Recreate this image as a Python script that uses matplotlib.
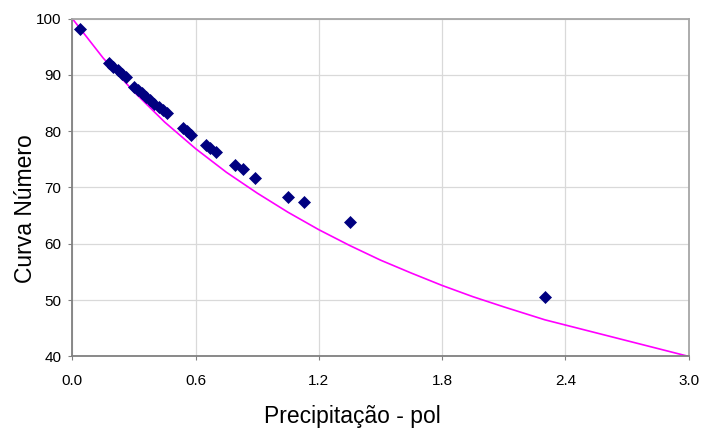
import matplotlib
matplotlib.use('Agg')
import matplotlib.pyplot as plt

plt.rcParams['font.family'] = ['Liberation Sans', 'DejaVu Sans']

# observed points (precipitation in, curve number)
precip = [0.037, 0.18, 0.20, 0.22, 0.24, 0.26, 0.30, 0.32, 0.34, 0.36, 0.38,
          0.40, 0.42, 0.44, 0.46, 0.54, 0.56, 0.58, 0.65, 0.67, 0.70, 0.79,
          0.83, 0.89, 1.05, 1.13, 1.35, 2.30]
cn_obs = [98.1, 92.1, 91.4, 90.8, 90.2, 89.6, 87.9, 87.3, 86.7, 86.1, 85.5,
          84.9, 84.3, 83.7, 83.2, 80.5, 80.0, 79.4, 77.5, 77.0, 76.3, 74.0,
          73.2, 71.6, 68.3, 67.4, 63.9, 50.5]

# magenta reference curve
curve_p = [0, 0.15, 0.3, 0.45, 0.6, 0.75, 0.9, 1.05, 1.2, 1.35, 1.5, 1.65,
           1.8, 1.95, 2.1, 2.3, 3.0]
curve_cn = [100, 93.0, 87.0, 81.6, 76.9, 72.7, 69.0, 65.6, 62.5, 59.7, 57.1,
            54.8, 52.6, 50.6, 48.8, 46.5, 40.0]

xticks = [0.0, 0.6, 1.2, 1.8, 2.4, 3.0]
yticks = [40, 50, 60, 70, 80, 90, 100]

fig = plt.figure(figsize=(7.02, 4.32), dpi=100)
ax = fig.add_axes([0.103, 0.175, 0.878, 0.782])

ax.plot(curve_p, curve_cn, color='#ff00ff', lw=1.2, zorder=2)
ax.plot(precip, cn_obs, ls='none', marker='D', ms=5.8, color='#000080',
        mec='#000080', mew=0.5, zorder=3, clip_on=False)

ax.set_xlim(0, 3.0)
ax.set_ylim(40, 100)
ax.set_xticks(xticks)
ax.set_xticklabels(['%.1f' % v for v in xticks])
ax.set_yticks(yticks)
ax.grid(True, color='#d9d9d9', lw=0.9)
ax.set_axisbelow(True)

for s in ['left', 'bottom']:
    ax.spines[s].set_color('#808080')
    ax.spines[s].set_linewidth(1.3)
for s in ['top', 'right']:
    ax.spines[s].set_color('#a6a6a6')
    ax.spines[s].set_linewidth(1.3)

ax.tick_params(axis='y', direction='out', length=3, color='#808080',
               labelsize=11, pad=5)
ax.tick_params(axis='x', direction='out', length=3, color='#808080',
               labelsize=11, pad=10)

ax.set_xlabel('Precipitação - pol', fontsize=16.5)
ax.set_ylabel('Curva Número', fontsize=16.5)
ax.xaxis.set_label_coords(0.455, -0.143)
ax.yaxis.set_label_coords(-0.058, 0.436)

fig.savefig('out.png', dpi=100)
